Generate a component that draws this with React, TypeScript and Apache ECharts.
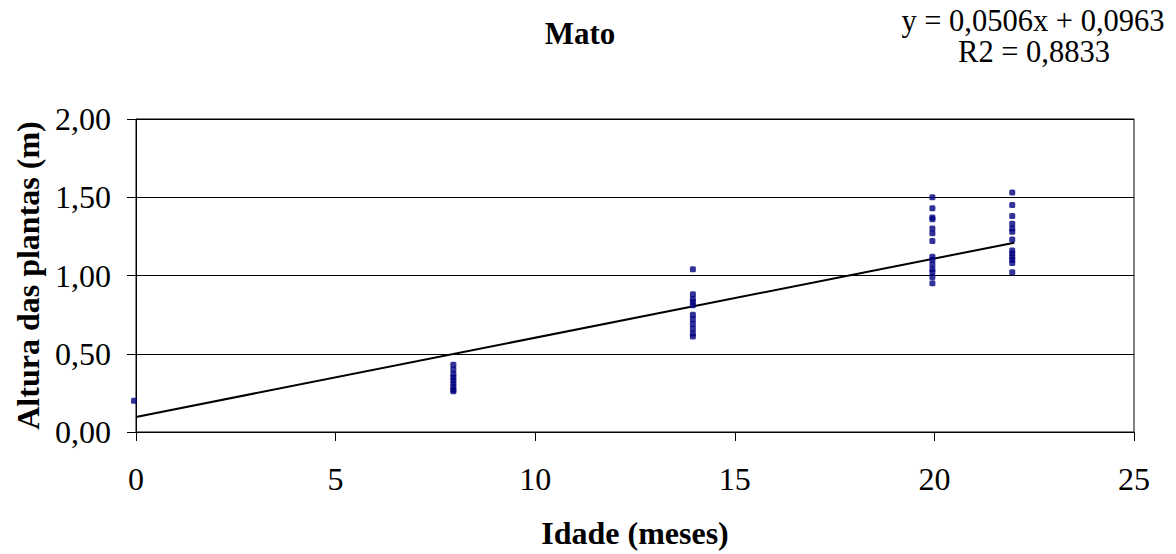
import React, { useEffect, useRef } from "react";
import * as echarts from "echarts";

const titleText = "Mato";
const equationLines = ["y = 0,0506x + 0,0963", "R2 = 0,8833"];
const xAxisName = "Idade (meses)";
const yAxisName = "Altura das plantas (m)";

const ages0 = [0];
const heights0 = [0.2];
const ages8 = [8, 8, 8, 8, 8, 8, 8, 8, 8];
const heights8 = [0.43, 0.4, 0.37, 0.35, 0.33, 0.31, 0.29, 0.27, 0.26];
const ages14 = [14, 14, 14, 14, 14, 14, 14, 14, 14, 14, 14];
const heights14 = [1.04, 0.88, 0.85, 0.83, 0.81, 0.75, 0.72, 0.69, 0.66, 0.63, 0.61];
const ages20 = [20, 20, 20, 20, 20, 20, 20, 20, 20, 20, 20, 20, 20, 20];
const heights20 = [1.5, 1.43, 1.37, 1.36, 1.3, 1.27, 1.22, 1.12, 1.1, 1.07, 1.04, 1.02, 0.99, 0.95];
const ages22 = [22, 22, 22, 22, 22, 22, 22, 22, 22, 22, 22, 22, 22];
const heights22 = [1.53, 1.45, 1.38, 1.33, 1.3, 1.28, 1.23, 1.16, 1.14, 1.12, 1.1, 1.08, 1.02];

const trendX = [0, 22];
const trendY = [0.0963, 1.2095];

const FONT = "Liberation Serif";

function pairs(xs: number[], ys: number[]) {
  return xs.map((x, i) => [x, ys[i]]);
}

export default function App() {
  const ref = useRef<HTMLDivElement>(null);
  useEffect(() => {
    document.body.style.margin = "0";
    const chart = echarts.init(ref.current!, null, { renderer: "svg" });
    const points = [
      ...pairs(ages0, heights0),
      ...pairs(ages8, heights8),
      ...pairs(ages14, heights14),
      ...pairs(ages20, heights20),
      ...pairs(ages22, heights22),
    ];
    chart.setOption({
      animation: false,
      backgroundColor: "#ffffff",
      textStyle: { fontFamily: FONT },
      title: {
        text: titleText,
        left: 575,
        top: 13,
        textAlign: "center",
        textStyle: { fontFamily: FONT, fontSize: 31, fontWeight: "bold", color: "#000" },
      },
      graphic: [
        {
          type: "text",
          x: 1033,
          y: 6,
          style: {
            text: equationLines[0],
            fontFamily: FONT,
            fontSize: 30.5,
            lineHeight: 30,
            fill: "#000",
            align: "center",
            verticalAlign: "top",
          },
        },
        {
          type: "text",
          x: 1034,
          y: 37,
          style: {
            text: equationLines[1],
            fontFamily: FONT,
            fontSize: 30.5,
            lineHeight: 30,
            fill: "#000",
            align: "center",
            verticalAlign: "top",
          },
        },
      ],
      grid: {
        left: 136,
        right: 42,
        top: 119,
        bottom: 121,
        show: true,
        borderColor: "#000",
        borderWidth: 1,
        containLabel: false,
      },
      xAxis: {
        type: "value",
        min: 0,
        max: 25,
        interval: 5,
        name: xAxisName,
        nameLocation: "middle",
        nameGap: 85,
        nameTextStyle: { fontFamily: FONT, fontSize: 32, fontWeight: "bold", color: "#000" },
        axisLine: { show: true, onZero: false, lineStyle: { color: "#000", width: 1 } },
        axisTick: { show: true, inside: false, length: 9, lineStyle: { color: "#000" } },
        axisLabel: { fontFamily: FONT, fontSize: 32, color: "#000", margin: 31 },
        splitLine: { show: false },
      },
      yAxis: {
        type: "value",
        min: 0,
        max: 2,
        interval: 0.5,
        name: yAxisName,
        nameLocation: "middle",
        nameGap: 92,
        nameTextStyle: { fontFamily: FONT, fontSize: 32, fontWeight: "bold", color: "#000" },
        axisLine: { show: true, lineStyle: { color: "#000", width: 1 } },
        axisTick: { show: true, inside: false, length: 9, lineStyle: { color: "#000" } },
        axisLabel: {
          fontFamily: FONT,
          fontSize: 32,
          color: "#000",
          margin: 25,
          formatter: (v: number) => v.toFixed(2).replace(".", ","),
        },
        splitLine: { show: true, lineStyle: { color: "#000", width: 1 } },
      },
      series: [
        {
          type: "line",
          data: pairs(trendX, trendY),
          showSymbol: false,
          symbol: "none",
          lineStyle: { color: "#000", width: 2 },
          z: 2,
        },
        {
          type: "scatter",
          data: points,
          symbol: "roundRect",
          symbolSize: [6, 6],
          symbolOffset: [-2, 0],
          itemStyle: { color: "#000080" },
          z: 3,
        },
      ],
    });
    return () => chart.dispose();
  }, []);
  return <div ref={ref} style={{ width: 1176, height: 554 }} />;
}
